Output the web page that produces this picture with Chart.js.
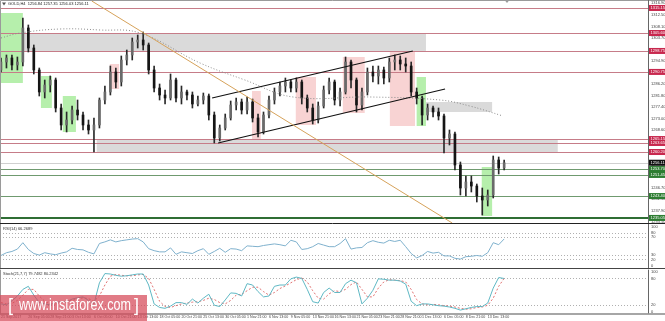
<!DOCTYPE html>
<html>
<head>
<meta charset="utf-8">
<script src="https://cdn.jsdelivr.net/npm/chart.js@4.4.1/dist/chart.umd.min.js"></script>
<style>
  html, body { margin: 0; padding: 0; background: #fff; }
  #wrap { position: relative; width: 665px; height: 321px; overflow: hidden; }
  canvas { position: absolute; left: 0; }
</style>
</head>
<body>
<div id="wrap">
  <canvas id="priceChart" width="665" height="224" style="top:0"></canvas>
  <canvas id="rsiChart" width="665" height="46" style="top:223px"></canvas>
  <canvas id="stochChart" width="665" height="53" style="top:268px"></canvas>
</div>
<script>
// GOLD H4, 21 Sep - 14 Dec 2017 (one candle = 4 H4 bars)
const candleOpen = [
  1291.49, 1294.54, 1296.07, 1293.40, 1294.54, 1307.51, 1299.88, 1291.49, 1283.10, 1285.77,
  1287.67, 1276.99, 1270.51, 1272.41, 1276.23, 1274.32, 1270.51, 1268.60, 1270.51, 1280.04,
  1283.10, 1290.73, 1286.91, 1295.30, 1297.21, 1302.17, 1302.93, 1301.03, 1291.49, 1284.62,
  1281.95, 1280.81, 1287.67, 1280.81, 1283.10, 1281.95, 1278.52, 1280.04, 1281.57, 1274.32,
  1265.55, 1269.36, 1273.18, 1278.14, 1279.28, 1276.23, 1279.28, 1273.18, 1267.84, 1274.32,
  1280.04, 1283.10, 1285.38, 1286.91, 1284.62, 1286.91, 1280.81, 1276.99, 1272.41, 1277.75,
  1283.86, 1286.91, 1280.04, 1283.10, 1294.54, 1287.67, 1278.14, 1283.10, 1290.73, 1289.20,
  1291.49, 1288.44, 1294.54, 1295.30, 1293.78, 1293.01, 1283.10, 1280.81, 1274.32, 1276.99,
  1275.47, 1273.94, 1265.55, 1267.07, 1255.25, 1246.47, 1248.76, 1247.23, 1243.42, 1241.89,
  1243.80, 1257.15, 1254.10
];
const candleHigh = [
  1296.07, 1297.21, 1297.21, 1296.45, 1311.33, 1308.66, 1301.03, 1292.25, 1287.67, 1289.20,
  1288.44, 1278.52, 1275.47, 1277.75, 1280.04, 1275.47, 1272.41, 1273.18, 1280.81, 1285.38,
  1293.01, 1292.25, 1296.83, 1299.12, 1303.70, 1304.84, 1305.99, 1301.79, 1293.01, 1286.15,
  1283.86, 1289.96, 1288.44, 1285.38, 1283.86, 1283.10, 1281.57, 1282.71, 1282.33, 1275.47,
  1270.51, 1274.70, 1279.66, 1280.81, 1280.42, 1281.19, 1280.42, 1274.70, 1275.47, 1281.57,
  1284.62, 1286.91, 1288.44, 1287.67, 1288.44, 1287.67, 1281.95, 1278.52, 1279.28, 1285.38,
  1288.44, 1287.67, 1284.62, 1296.45, 1295.30, 1288.44, 1284.62, 1292.25, 1293.01, 1293.01,
  1292.63, 1296.07, 1297.21, 1296.83, 1296.07, 1294.54, 1284.62, 1281.57, 1278.52, 1277.75,
  1276.99, 1274.70, 1268.60, 1267.84, 1256.39, 1251.05, 1251.05, 1248.00, 1246.47, 1245.71,
  1258.68, 1258.30, 1257.15
];
const candleLow = [
  1290.73, 1292.25, 1291.49, 1291.49, 1293.01, 1298.36, 1289.96, 1281.57, 1280.81, 1283.10,
  1275.47, 1268.60, 1267.84, 1270.89, 1272.41, 1268.60, 1267.07, 1260.21, 1269.36, 1278.52,
  1281.95, 1284.62, 1285.38, 1293.40, 1295.30, 1299.88, 1299.12, 1289.96, 1283.10, 1280.04,
  1278.52, 1280.04, 1279.28, 1278.52, 1280.04, 1276.99, 1277.75, 1278.52, 1272.41, 1263.64,
  1264.40, 1268.60, 1272.41, 1276.23, 1274.70, 1274.70, 1271.65, 1265.93, 1267.07, 1273.18,
  1278.52, 1281.57, 1283.10, 1283.10, 1283.10, 1278.52, 1275.47, 1270.89, 1271.27, 1276.99,
  1282.33, 1278.14, 1277.75, 1282.33, 1284.62, 1275.47, 1276.23, 1281.95, 1286.91, 1286.15,
  1286.15, 1286.91, 1291.49, 1291.49, 1290.73, 1281.57, 1278.52, 1270.51, 1272.41, 1273.56,
  1272.41, 1259.82, 1262.88, 1253.34, 1243.80, 1243.42, 1244.95, 1241.13, 1236.17, 1239.60,
  1242.66, 1251.81, 1253.34
];
const candleClose = [
  1294.54, 1296.07, 1293.40, 1294.54, 1307.51, 1299.88, 1291.49, 1283.10, 1285.77, 1287.67,
  1276.99, 1270.51, 1272.41, 1276.23, 1274.32, 1270.51, 1268.60, 1270.51, 1280.04, 1283.10,
  1290.73, 1286.91, 1295.30, 1297.21, 1302.17, 1302.93, 1301.03, 1291.49, 1284.62, 1281.95,
  1280.81, 1287.67, 1280.81, 1283.10, 1281.95, 1278.52, 1280.04, 1281.57, 1274.32, 1265.55,
  1269.36, 1273.18, 1278.14, 1279.28, 1276.23, 1279.28, 1273.18, 1267.84, 1274.32, 1280.04,
  1283.10, 1285.38, 1286.91, 1284.62, 1286.91, 1280.81, 1276.99, 1272.41, 1277.75, 1283.86,
  1286.91, 1280.04, 1283.10, 1294.54, 1287.67, 1278.14, 1283.10, 1290.73, 1289.20, 1291.49,
  1288.44, 1294.54, 1295.30, 1293.78, 1293.01, 1283.10, 1280.81, 1274.32, 1276.99, 1275.47,
  1273.94, 1265.55, 1267.07, 1255.25, 1246.47, 1248.76, 1247.23, 1243.42, 1241.89, 1243.80,
  1257.15, 1254.10, 1256.11
];

// indicators
const rsiValues = [
  28.9, 35.2, 38.0, 43.4, 57.8, 42.5, 33.4, 29.8, 35.2, 32.5,
  30.7, 34.3, 37.1, 45.2, 42.5, 41.6, 36.1, 32.5, 56.0, 59.6,
  64.2, 59.6, 62.4, 64.2, 66.0, 66.9, 59.6, 44.3, 39.8, 37.1,
  37.1, 46.1, 31.6, 37.1, 35.2, 33.4, 39.8, 44.3, 31.6, 38.0,
  45.2, 36.1, 44.3, 43.4, 39.8, 50.6, 49.7, 48.8, 51.5, 53.3,
  55.1, 53.3, 50.6, 63.3, 59.6, 42.5, 44.3, 48.8, 56.0, 52.4,
  48.8, 48.8, 56.0, 66.9, 43.4, 46.1, 47.0, 57.8, 62.4, 58.7,
  56.9, 63.3, 60.6, 63.3, 48.8, 33.4, 23.5, 28.9, 38.0, 34.3,
  36.1, 28.0, 28.0, 22.6, 20.8, 26.2, 27.1, 28.9, 27.1, 35.2,
  57.8, 53.3, 66.27
];
const stochMain = [
  22, 20, 29, 40, 55, 62, 42, 25, 22, 20,
  26, 27, 27, 33, 36, 38, 30, 22, 70, 91,
  90, 87, 85, 86, 88, 90, 90, 65, 22, 14,
  12, 17, 25, 25, 21, 33, 24, 35, 44, 19,
  16, 31, 47, 46, 40, 68, 65, 50, 38, 40,
  62, 65, 65, 79, 83, 80, 55, 27, 24, 48,
  58, 48, 48, 68, 76, 70, 22, 35, 53, 79,
  78, 76, 76, 74, 67, 28, 18, 22, 22, 20,
  18, 17, 15, 12, 8, 11, 14, 16, 16, 24,
  58, 82, 79.75
];
const stochSignal = [
  25, 22, 23, 30, 42, 55, 55, 40, 28, 22,
  22, 25, 27, 30, 33, 36, 34, 28, 40, 65,
  85, 89, 87, 86, 86, 88, 89, 80, 55, 28,
  16, 14, 18, 22, 24, 26, 27, 30, 35, 32,
  25, 22, 30, 42, 44, 52, 60, 60, 50, 42,
  48, 57, 63, 70, 77, 81, 72, 52, 35, 33,
  45, 52, 50, 55, 66, 72, 55, 38, 38, 58,
  72, 77, 76, 75, 72, 55, 32, 22, 20, 21,
  20, 18, 17, 15, 12, 10, 11, 14, 15, 19,
  35, 62, 80.23
];

// moving average (dotted), read at a few points
const maIdx = [0, 3.5, 10.8, 18.1, 25.4, 36.4, 44.6, 53.4, 67.5, 80.3, 85.7, 91.8];
const maValues = [1303.70, 1305.60, 1307.13, 1306.75, 1305.60, 1294.16, 1287.67, 1281.19, 1281.19, 1280.04, 1277.75, 1273.94];

// drawn lines
const orangeLineIdx = [16.6, 82.5];
const orangeLinePrice = [1317.81, 1233.12];
const channelLowIdx = [39.7, 81.2];
const channelLowPrice = [1263.64, 1284.24];
const channelHighIdx = [38.6, 75.3];
const channelHighPrice = [1280.81, 1298.74];

// levels
const redLevels = [1315.15, 1305.60, 1298.75, 1290.75, 1265.15, 1263.65, 1260.20];
const greenLevels = [1253.70, 1251.45, 1243.40];
const supportLevel = 1235.05;
const lastPrice = 1256.11;

// zones: [fromIdx, toIdx, top, bottom]
const greyBoxes = [
  [-0.2, 77.7, 1305.60, 1298.75],
  [17.5, 101.8, 1265.15, 1260.20],
  [77.5, 89.8, 1279.28, 1275.47]
];
const greenZones = [
  [-0.2, 4.0, 1313.23, 1286.53],
  [7.3, 9.3, 1289.20, 1276.99],
  [11.3, 13.7, 1281.57, 1267.84],
  [76.0, 77.7, 1288.82, 1270.12],
  [87.9, 89.8, 1254.48, 1235.79]
];
const pinkZones = [
  [19.9, 21.6, 1293.78, 1284.24],
  [45.9, 47.5, 1283.48, 1265.17],
  [53.9, 57.6, 1288.82, 1270.51],
  [62.5, 66.5, 1296.45, 1275.08],
  [71.1, 75.7, 1298.36, 1270.12]
];

// axes
const priceTicks = [1233.50, 1237.90, 1242.30, 1246.70, 1251.10, 1255.40, 1259.80, 1264.20, 1268.60, 1273.00,
  1277.40, 1281.80, 1286.20, 1290.50, 1294.90, 1299.30, 1303.70, 1308.10, 1312.50, 1316.90];
const timeLabels = ['21 Sep 2017', '26 Sep 05:00', '28 Sep 21:00', '3 Oct 13:00', '6 Oct 05:00', '10 Oct 21:00',
  '13 Oct 13:00', '18 Oct 05:00', '20 Oct 21:00', '25 Oct 13:00', '30 Oct 05:00', '1 Nov 21:00', '6 Nov 13:00',
  '9 Nov 05:00', '13 Nov 21:00', '16 Nov 13:00', '21 Nov 05:00', '23 Nov 21:00', '28 Nov 21:00', '1 Dec 13:00',
  '6 Dec 05:00', '8 Dec 21:00', '13 Dec 13:00'];
const timeLabelIdx = [0, 5, 9, 13, 17, 21, 25, 29, 33, 37, 41, 45, 49, 53, 57, 61, 65, 69, 73, 77, 81, 85, 89];
const rsiLevels = [80, 70, 30, 20];
const rsiAxisLabels = [100, 80, 70, 30, 20, 0];
const stochLevels = [80, 20];
const stochAxisLabels = [100, 80, 20, 0];

const X_MIN = -0.18;
const X_MAX = 118.3;
const FONT = '"Liberation Sans", Arial, sans-serif';
const AXIS_W = 17;

const candleIdx = candleClose.map((_, i) => i);
const isUp = i => candleClose[i] >= candleOpen[i];

function fixYAxis(axis) {
  axis.width = AXIS_W;
  axis.paddingTop = 0;
  axis.paddingBottom = 0;
}

function hline(ctx, a, py, color, w, dash) {
  const y = w % 2 ? Math.round(py) + 0.5 : Math.round(py);
  ctx.save();
  ctx.strokeStyle = color;
  ctx.lineWidth = w;
  if (dash) ctx.setLineDash(dash);
  ctx.beginPath();
  ctx.moveTo(a.left, y);
  ctx.lineTo(a.right, y);
  ctx.stroke();
  ctx.restore();
}

// zones, levels, tags, header for the price panel
const priceDecor = {
  id: 'priceDecor',
  beforeDatasetsDraw(chart) {
    const { ctx, chartArea: a, scales: { x, y } } = chart;
    ctx.save();
    ctx.beginPath();
    ctx.rect(a.left, a.top, a.width, a.height);
    ctx.clip();
    const box = (z, color) => {
      const x1 = x.getPixelForValue(z[0]), x2 = x.getPixelForValue(z[1]);
      const y1 = y.getPixelForValue(z[2]), y2 = y.getPixelForValue(z[3]);
      ctx.fillStyle = color;
      ctx.fillRect(x1, y1, x2 - x1, y2 - y1);
    };
    greyBoxes.forEach(z => box(z, '#dadada'));
    greenZones.forEach(z => box(z, '#b6efac'));
    pinkZones.forEach(z => box(z, '#f8d3d3'));
    redLevels.forEach(v => hline(ctx, a, y.getPixelForValue(v), '#c67c88', 1));
    greenLevels.forEach(v => hline(ctx, a, y.getPixelForValue(v), '#6f9a6f', 1));
    hline(ctx, a, y.getPixelForValue(supportLevel), '#2f6e34', 2);
    hline(ctx, a, y.getPixelForValue(lastPrice), '#d0d0d0', 1);
    ctx.restore();
  },
  afterDraw(chart) {
    const { ctx, chartArea: a, scales: { y } } = chart;
    ctx.save();
    // frame
    ctx.strokeStyle = '#9a9a9a';
    ctx.lineWidth = 1;
    ctx.beginPath();
    ctx.moveTo(0.5, a.bottom); ctx.lineTo(0.5, 0.5); ctx.lineTo(665, 0.5);
    ctx.stroke();
    ctx.strokeStyle = '#666';
    ctx.beginPath();
    ctx.moveTo(a.right + 0.5, 0); ctx.lineTo(a.right + 0.5, a.bottom);
    ctx.stroke();
    ctx.strokeStyle = '#222';
    ctx.beginPath();
    ctx.moveTo(0, a.bottom + 0.5); ctx.lineTo(665, a.bottom + 0.5);
    ctx.stroke();

    // price tags
    const tag = (v, bg) => {
      const py = y.getPixelForValue(v);
      ctx.fillStyle = bg;
      ctx.fillRect(a.right + 1, py - 3, AXIS_W - 1, 6);
      ctx.fillStyle = '#fff';
      ctx.font = '4px ' + FONT;
      ctx.textBaseline = 'middle';
      ctx.textAlign = 'left';
      ctx.fillText(v.toFixed(2), a.right + 2.5, py + 0.3);
    };
    redLevels.forEach(v => tag(v, '#c8284e'));
    greenLevels.forEach(v => tag(v, '#2e7d32'));
    tag(supportLevel, '#2e7d32');
    tag(lastPrice, '#111');

    // header
    ctx.fillStyle = '#555';
    ctx.beginPath();
    ctx.moveTo(2, 2.5); ctx.lineTo(6, 2.5); ctx.lineTo(4, 5.5); ctx.closePath();
    ctx.fill();
    ctx.fillStyle = '#222';
    ctx.font = '4px ' + FONT;
    ctx.textBaseline = 'top';
    ctx.textAlign = 'left';
    ctx.fillText('GOLD,H4  1256.84 1257.35 1256.03 1256.11', 8, 2);
    // chart shift marker
    ctx.fillStyle = '#999';
    ctx.beginPath();
    ctx.moveTo(505, 0.5); ctx.lineTo(509, 0.5); ctx.lineTo(507, 3); ctx.closePath();
    ctx.fill();
    ctx.restore();
  }
};

new Chart(document.getElementById('priceChart'), {
  type: 'bar',
  data: {
    datasets: [
      {
        type: 'bar',
        data: candleIdx.map(i => ({ x: i, y: [candleLow[i], candleHigh[i]] })),
        backgroundColor: '#2a2a2a',
        barThickness: 1,
        grouped: false,
        order: 3
      },
      {
        type: 'bar',
        data: candleIdx.map(i => ({ x: i, y: [candleOpen[i], candleClose[i]] })),
        backgroundColor: c => isUp(c.dataIndex) ? '#6a6a6a' : '#151515',
        borderWidth: 0,
        barThickness: 2,
        grouped: false,
        order: 2
      },
      {
        type: 'line',
        data: maIdx.map((v, i) => ({ x: v, y: maValues[i] })),
        borderColor: '#8c8c8c',
        borderDash: [1, 2],
        borderWidth: 1,
        pointRadius: 0,
        tension: 0.4,
        order: 1
      },
      {
        type: 'line',
        data: orangeLineIdx.map((v, i) => ({ x: v, y: orangeLinePrice[i] })),
        borderColor: '#d6a25a',
        borderWidth: 1,
        pointRadius: 0,
        order: 0
      },
      {
        type: 'line',
        data: channelLowIdx.map((v, i) => ({ x: v, y: channelLowPrice[i] })),
        borderColor: '#111',
        borderWidth: 1.2,
        pointRadius: 0,
        order: 0
      },
      {
        type: 'line',
        data: channelHighIdx.map((v, i) => ({ x: v, y: channelHighPrice[i] })),
        borderColor: '#111',
        borderWidth: 1.2,
        pointRadius: 0,
        order: 0
      }
    ]
  },
  options: {
    responsive: false,
    animation: false,
    devicePixelRatio: 1,
    layout: { padding: { top: 1, bottom: 1, left: 0, right: 0 } },
    plugins: { legend: { display: false }, tooltip: { enabled: false } },
    scales: {
      x: { type: 'linear', min: X_MIN, max: X_MAX, offset: false, display: false },
      y: {
        type: 'linear',
        position: 'right',
        min: 1233.12,
        max: 1317.81,
        grid: { display: false, drawTicks: false },
        border: { display: false },
        afterBuildTicks: axis => { axis.ticks = priceTicks.map(v => ({ value: v })); },
        afterFit: fixYAxis,
        ticks: {
          autoSkip: false,
          padding: 3,
          color: '#444',
          font: { family: FONT, size: 4 },
          callback: v => v.toFixed(2)
        }
      }
    }
  },
  plugins: [priceDecor]
});

// sub panels (RSI, Stochastic)
function panelPlugin(levels, axisLabels, title, bottomColor) {
  return {
    id: 'panelDecor',
    beforeDatasetsDraw(chart) {
      const { ctx, chartArea: a, scales: { y } } = chart;
      levels.forEach(v => hline(ctx, a, y.getPixelForValue(v), '#b0b0b0', 1, [1, 2]));
    },
    afterDraw(chart) {
      const { ctx, chartArea: a, scales: { y } } = chart;
      ctx.save();
      ctx.strokeStyle = '#9a9a9a';
      ctx.lineWidth = 1;
      ctx.beginPath();
      ctx.moveTo(0.5, a.top); ctx.lineTo(0.5, a.bottom);
      ctx.stroke();
      ctx.strokeStyle = '#666';
      ctx.beginPath();
      ctx.moveTo(a.right + 0.5, a.top); ctx.lineTo(a.right + 0.5, a.bottom);
      ctx.stroke();
      ctx.strokeStyle = bottomColor;
      ctx.lineWidth = 1.5;
      ctx.beginPath();
      ctx.moveTo(0, a.bottom + 0.5); ctx.lineTo(665, a.bottom + 0.5);
      ctx.stroke();

      ctx.fillStyle = '#444';
      ctx.font = '4px ' + FONT;
      ctx.textBaseline = 'middle';
      ctx.textAlign = 'left';
      axisLabels.forEach(v => {
        let py = y.getPixelForValue(v);
        py = Math.min(Math.max(py, a.top + 2.6), a.bottom - 2.2);
        ctx.fillText(String(v), a.right + 3, py);
      });
      ctx.fillStyle = '#333';
      ctx.textBaseline = 'top';
      ctx.fillText(title, 3, a.top + 2.5);
      ctx.restore();
    }
  };
}

const watermark = {
  id: 'watermark',
  afterDraw(chart) {
    const { ctx } = chart;
    ctx.save();
    ctx.fillStyle = 'rgba(214, 72, 88, 0.72)';
    ctx.fillRect(0, 27, 147, 26);
    ctx.fillStyle = '#fff';
    ctx.textBaseline = 'alphabetic';
    ctx.textAlign = 'left';
    ctx.font = '300 18px ' + FONT;
    ctx.fillText('[', 8, 43);
    ctx.fillText(']', 134, 43);
    ctx.font = '17px ' + FONT;
    ctx.fillText('www.instaforex.com', 19, 42, 112);
    ctx.restore();
  }
};

function yPanelScale() {
  return {
    type: 'linear',
    position: 'right',
    min: 0,
    max: 100,
    grid: { display: false, drawTicks: false },
    border: { display: false },
    ticks: { display: false },
    afterFit: fixYAxis
  };
}

new Chart(document.getElementById('rsiChart'), {
  type: 'line',
  data: {
    datasets: [{
      data: candleIdx.map(i => ({ x: i, y: rsiValues[i] })),
      borderColor: '#7fb1cd',
      borderWidth: 1,
      pointRadius: 0,
      tension: 0
    }]
  },
  options: {
    responsive: false,
    animation: false,
    devicePixelRatio: 1,
    layout: { padding: { top: 1, bottom: 0.7, left: 0, right: 0 } },
    plugins: { legend: { display: false }, tooltip: { enabled: false } },
    scales: {
      x: { type: 'linear', min: X_MIN, max: X_MAX, offset: false, display: false },
      y: yPanelScale()
    }
  },
  plugins: [panelPlugin(rsiLevels, rsiAxisLabels, 'RSI(14) 66.2689', '#444')]
});

new Chart(document.getElementById('stochChart'), {
  type: 'line',
  data: {
    datasets: [
      {
        data: candleIdx.map(i => ({ x: i, y: stochMain[i] })),
        borderColor: '#5fb8c4',
        borderWidth: 1,
        pointRadius: 0,
        tension: 0
      },
      {
        data: candleIdx.map(i => ({ x: i, y: stochSignal[i] })),
        borderColor: '#e07272',
        borderDash: [2, 2],
        borderWidth: 1,
        pointRadius: 0,
        tension: 0
      }
    ]
  },
  options: {
    responsive: false,
    animation: false,
    devicePixelRatio: 1,
    layout: { padding: { top: 1.6, bottom: 0, left: 0, right: 0 } },
    plugins: { legend: { display: false }, tooltip: { enabled: false } },
    scales: {
      x: {
        type: 'linear',
        min: X_MIN,
        max: X_MAX,
        offset: false,
        grid: { display: false, drawTicks: false },
        border: { display: false },
        afterBuildTicks: axis => { axis.ticks = timeLabelIdx.map(v => ({ value: v })); },
        afterFit: axis => { axis.height = 7.4; axis.paddingLeft = 0; axis.paddingRight = 0; },
        ticks: {
          autoSkip: false,
          maxRotation: 0,
          minRotation: 0,
          align: 'start',
          padding: 1.5,
          color: '#444',
          font: { family: FONT, size: 3.6 },
          callback: v => timeLabels[timeLabelIdx.indexOf(v)]
        }
      },
      y: yPanelScale()
    }
  },
  plugins: [panelPlugin(stochLevels, stochAxisLabels, 'Stoch(21,7,7) 79.7482 80.2342', '#888'), watermark]
});
</script>
</body>
</html>
